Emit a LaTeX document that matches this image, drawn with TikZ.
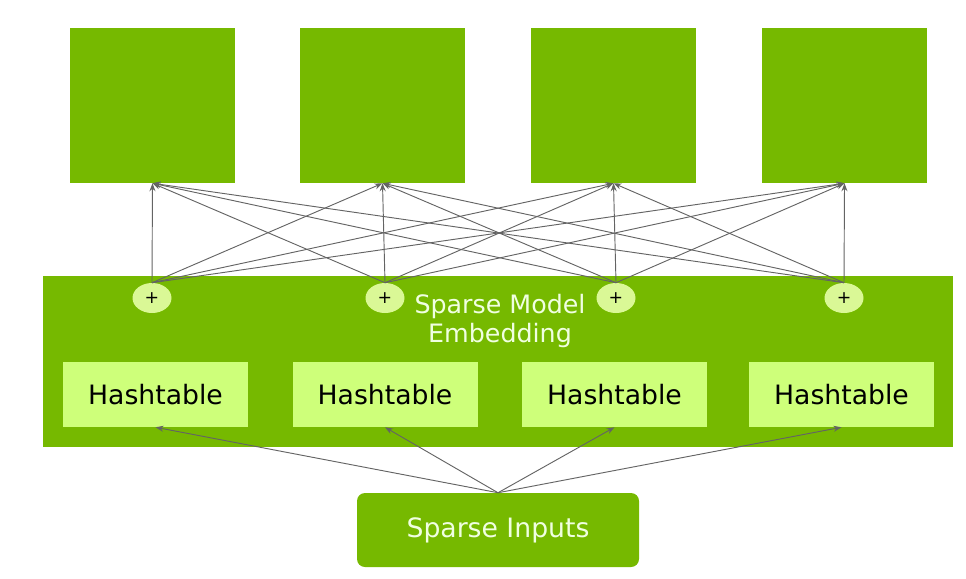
\documentclass[tikz,border=0pt]{standalone}
\usepackage{fontspec}
\setmainfont{DejaVu Sans}
\usetikzlibrary{positioning,shapes,arrows,arrows.meta}
\definecolor{nvgreen}{RGB}{118,185,0}
\definecolor{lightgreen}{RGB}{206,255,122}
\definecolor{plusgreen}{RGB}{218,248,150}
\definecolor{linegray}{RGB}{100,100,100}
\definecolor{labelwhite}{RGB}{240,255,225}
\tikzstyle{outbox}=[rectangle, fill=nvgreen, minimum width=123.75pt, minimum height=116.25pt, inner sep=0pt]
\tikzstyle{hashbox}=[rectangle, fill=lightgreen, minimum width=138.75pt, minimum height=48.75pt, inner sep=0pt, font=\fontsize{20}{24}\selectfont]
\tikzstyle{plus}=[ellipse, fill=plusgreen, minimum width=29.25pt, minimum height=22.5pt, inner sep=0pt, font=\fontsize{13}{15}\selectfont]
\tikzstyle{line}=[-{Stealth[length=6pt, width=4.5pt]}, linegray, line width=0.7pt]

\begin{document}
\begin{tikzpicture}[x=0.75pt, y=-0.75pt]
        \useasboundingbox (0,0) rectangle (966,578);

        \node[outbox] (o1) at (152.5,105.5) {};
        \node[outbox] (o2) at (382.5,105.5) {};
        \node[outbox] (o3) at (613.5,105.5) {};
        \node[outbox] (o4) at (844.5,105.5) {};

        \node[rectangle, fill=nvgreen, minimum width=682.5pt, minimum height=128.25pt] (emb) at (498,361.5) {};
        \node[text=labelwhite, align=center, font=\fontsize{19}{21.75}\selectfont] (label) at (500,321) {Sparse Model\\Embedding};

        \node[plus] (p1) at (152,298) {+};
        \node[plus] (p2) at (385,298) {+};
        \node[plus] (p3) at (616,298) {+};
        \node[plus] (p4) at (844,298) {+};

        \node[hashbox] (h1) at (155.5,394.5) {Hashtable};
        \node[hashbox] (h2) at (385,394.5) {Hashtable};
        \node[hashbox] (h3) at (614.5,394.5) {Hashtable};
        \node[hashbox] (h4) at (841.5,394.5) {Hashtable};

        \node[rectangle, rounded corners=6pt, fill=nvgreen, minimum width=211.5pt, minimum height=55.5pt, text=labelwhite, font=\fontsize{20}{24}\selectfont] (inputs) at (498,530) {Sparse Inputs};

        \foreach \i in {1,...,4}
            \foreach \j in {1,...,4}
                \draw[line] (p\i.north) -- (o\j.south);

        \foreach \i in {1,...,4}
            \draw[line] (inputs.north) -- (h\i.south);
    \end{tikzpicture}
\end{document}
